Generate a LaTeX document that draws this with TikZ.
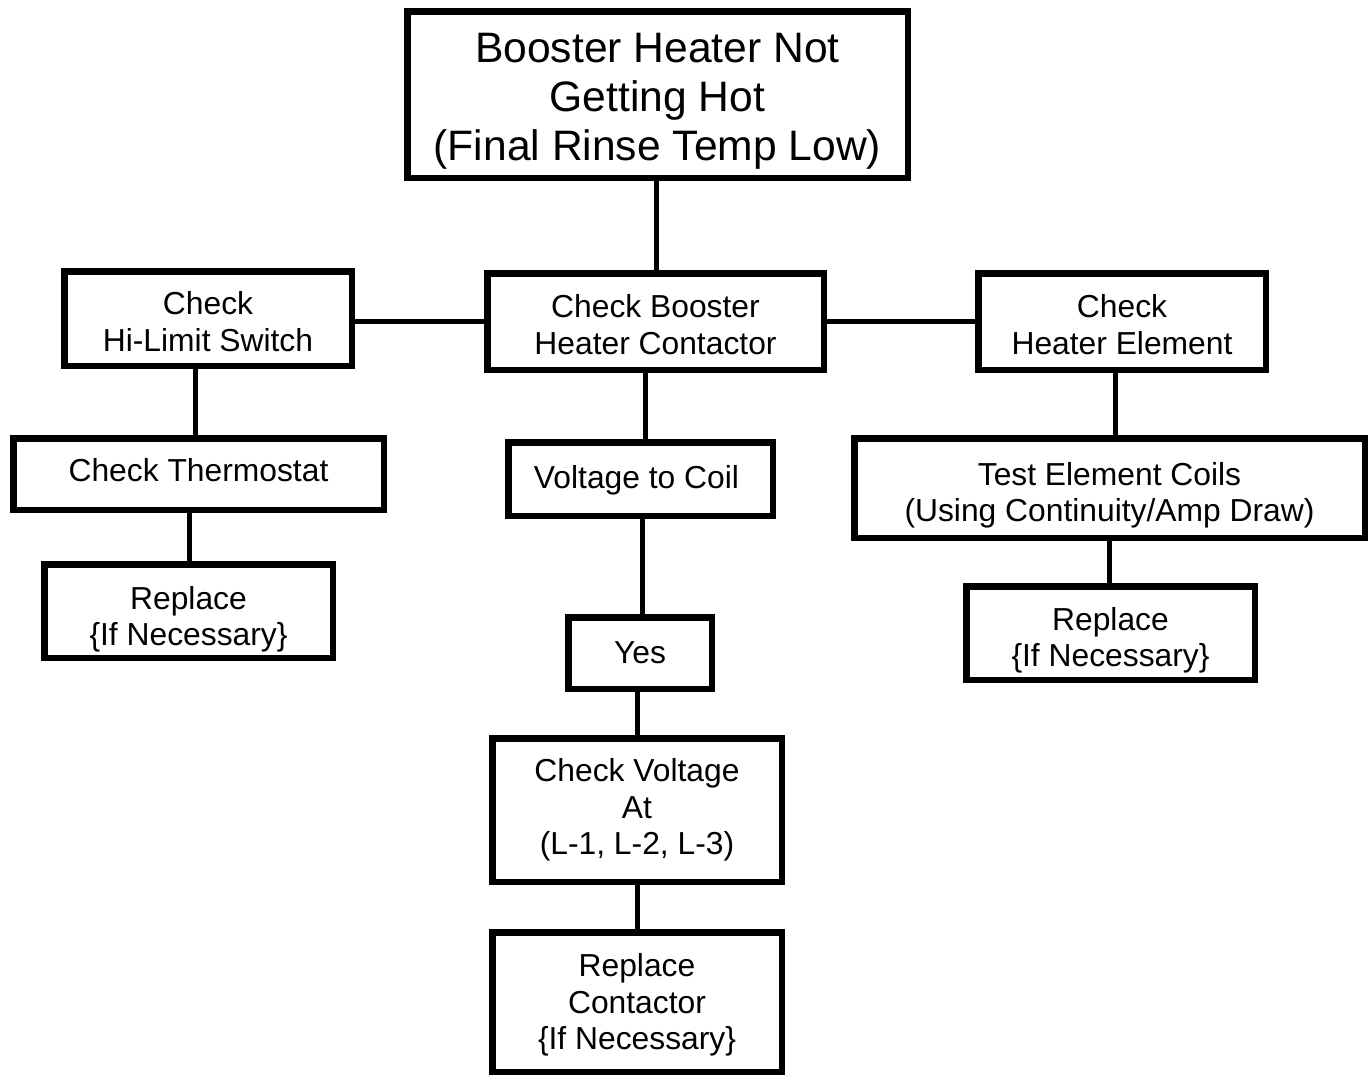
\documentclass[tikz,border=0pt]{standalone}
\usepackage{fontspec}
\setmainfont{Liberation Sans}
\newcommand\dnshift[1]{\rule{0pt}{\dimexpr 0.73em+#1*2\relax}}
\begin{document}
\begin{tikzpicture}[x=1pt,y=-1pt,
  box/.style={draw=black,line width=6.5pt,fill=white,inner sep=0pt,align=center,
    font=\fontsize{31.8}{36.6}\selectfont},
  conn/.style={line width=5pt,black}]
\useasboundingbox (0,0) rectangle (1371,1076);
% boxes (size = outer - line width)
\node[box,minimum width=500.5pt,minimum height=166.5pt,font=\fontsize{42.6}{49}\selectfont] (top) at (657.5,94.5) {\dnshift{6pt}Booster Heater Not\\Getting Hot\\(Final Rinse Temp Low)};
\node[box,minimum width=287.5pt,minimum height=94.5pt] (hilimit) at (208,318.5) {\dnshift{3pt}Check\\Hi-Limit Switch};
\node[box,minimum width=336.5pt,minimum height=96.5pt] (contactor) at (655.5,321.5) {\dnshift{3pt}Check Booster\\Heater Contactor};
\node[box,minimum width=287.5pt,minimum height=96.5pt] (element) at (1122,321.5) {\dnshift{3pt}Check\\Heater Element};
\node[box,minimum width=370.5pt,minimum height=71.5pt] (thermo) at (198.5,474) {Check Thermostat\rule[-8pt]{0pt}{8pt}};
\node[box,minimum width=288.5pt,minimum height=93.5pt] (repL) at (188.5,611) {\dnshift{8pt}Replace\\\{If Necessary\}};
\node[box,minimum width=264.5pt,minimum height=73.5pt] (coil) at (640.5,479) {\hspace*{-8pt}\dnshift{1pt}Voltage to Coil};
\node[box,minimum width=143.5pt,minimum height=71.5pt] (yes) at (640,653) {Yes};
\node[box,minimum width=289.5pt,minimum height=143.5pt] (checkV) at (637,810) {Check Voltage\\At\\(L-1, L-2, L-3)};
\node[box,minimum width=289.5pt,minimum height=139.5pt] (repC) at (637,1002) {\dnshift{3pt}Replace\\Contactor\\\{If Necessary\}};
\node[box,minimum width=510.5pt,minimum height=99.5pt] (test) at (1109.5,488) {\dnshift{7pt}Test Element Coils\\(Using Continuity/Amp Draw)};
\node[box,minimum width=288.5pt,minimum height=93.5pt] (repR) at (1110.5,633) {\dnshift{7pt}Replace\\\{If Necessary\}};
% connectors
\draw[conn] ([xshift=-1.5pt]top.south) -- ([xshift=0.5pt]contactor.north);
\draw[conn] ([yshift=-2.5pt]hilimit.east) -- ([yshift=0.5pt]contactor.west);
\draw[conn] (contactor.east) -- (element.west);
\draw[conn] ([xshift=-13pt]hilimit.south) -- ([xshift=-3.5pt]thermo.north);
\draw[conn] ([xshift=-9.5pt]thermo.south) -- ([xshift=0.5pt]repL.north);
\draw[conn] ([xshift=-10.5pt]contactor.south) -- ([xshift=4.5pt]coil.north);
\draw[conn] ([xshift=1.5pt]coil.south) -- ([xshift=2pt]yes.north);
\draw[conn] ([xshift=-3pt]yes.south) -- (checkV.north);
\draw[conn] (checkV.south) -- (repC.north);
\draw[conn] ([xshift=-7pt]element.south) -- ([xshift=5.5pt]test.north);
\draw[conn] ([xshift=-0.5pt]test.south) -- ([xshift=-1.5pt]repR.north);
\end{tikzpicture}
\end{document}
